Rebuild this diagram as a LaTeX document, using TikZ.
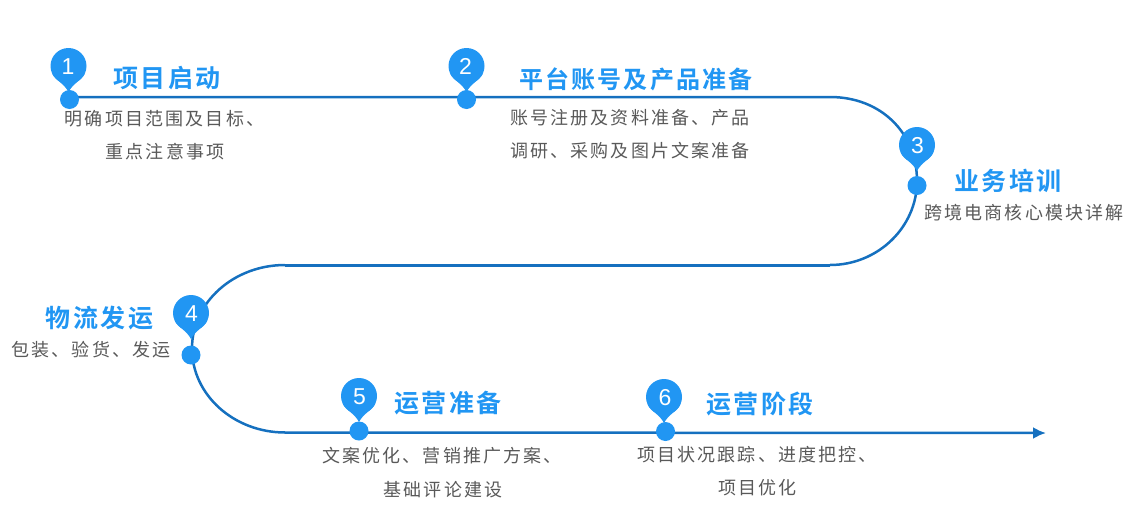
\documentclass[tikz,border=0pt]{standalone}
\usepackage{fontspec}
\usetikzlibrary{arrows.meta,backgrounds}
\setmainfont{Liberation Sans}
\newfontfamily\bodyfont[LetterSpace=12]{Noto Sans CJK SC}
\newfontfamily\titlefont[LetterSpace=10]{Noto Sans CJK SC Bold}
\newfontfamily\titlefontb[LetterSpace=9]{Noto Sans CJK SC Bold}
\definecolor{pinblue}{HTML}{2196F3}
\definecolor{linkblue}{HTML}{1570BF}
\definecolor{bodygray}{HTML}{595959}
\tikzset{
  x=1pt,y=-1pt,
  link/.style={draw=linkblue,line width=2.5pt},
  straight/.style={draw=linkblue,line width=3pt},
  dot/.style={circle,fill=pinblue,minimum size=19pt,inner sep=0pt},
  num/.style={text=white,font=\fontsize{23}{23}\selectfont,inner sep=0pt},
  heading/.style={text=pinblue,font=\titlefont\fontsize{25}{25}\selectfont,inner sep=0pt},
  longheading/.style={text=pinblue,font=\titlefontb\fontsize{24}{24}\selectfont,inner sep=0pt},
  body/.style={text=bodygray,font=\bodyfont\fontsize{18}{33}\selectfont,inner sep=0pt,align=center},
}
\newcommand{\pinshape}[2]{% centre x,y
  \begin{scope}[shift={(#1,#2)}]
  \fill[pinblue] (0,0) circle[radius=18pt];
  \fill[pinblue] (-16.4,7.5) .. controls (-13,14) and (-4,18) .. (0,26)
    .. controls (4,18) and (13,14) .. (16.4,7.5) -- cycle;
  \end{scope}
}
\begin{document}
\begin{tikzpicture}
\useasboundingbox (0,0) rectangle (1148,530);
\coordinate (s3a) at (830,97);
\coordinate (s3m) at (917,181);
\coordinate (s3b) at (830,265);
\coordinate (s4a) at (285,265);
\coordinate (s4m) at (192,348.5);
\coordinate (s4b) at (285,432.5);
\coordinate (endp) at (1046,433);
\node[dot] (d1) at (69.5,99.5) {};
\node[dot] (d2) at (466.5,99.5) {};
\node[dot] (d3) at (917,185.5) {};
\node[dot] (d4) at (191,355) {};
\node[dot] (d5) at (359,431) {};
\node[dot] (d6) at (665.5,431.5) {};
\begin{pgfonlayer}{background}
\draw[link] (d1.center |- s3a) -- (s3a) .. controls (881,97) and (917,133) .. (s3m)
  .. controls (917,227) and (878,265) .. (s3b);
\draw[straight] (s3b) -- (s4a);
\draw[link] (s4a) .. controls (234,265) and (192,302) .. (s4m)
  .. controls (192,395) and (234,432.5) .. (s4b);
\draw[link,-{Latex[length=13pt,width=12pt]}] (s4b) -- (endp);
\end{pgfonlayer}
\pinshape{68.5}{66}
\pinshape{466.5}{66}
\pinshape{917}{145}
\pinshape{191}{313}
\pinshape{359}{396}
\pinshape{664}{397}
\node[num] (n1) at (68,66.5) {1};
\node[num] (n2) at (465.5,66.5) {2};
\node[num] (n3) at (917.5,145.5) {3};
\node[num] (n4) at (191.5,313.5) {4};
\node[num] (n5) at (359.5,396.5) {5};
\node[num] (n6) at (665,397.5) {6};
\node[heading] (h1) at (167,78) {项目启动};
\node[longheading] (h2) at (636,79) {平台账号及产品准备};
\node[heading] (h3) at (1008,181) {业务培训};
\node[heading] (h4) at (99.5,318) {物流发运};
\node[heading] (h5) at (448,403) {运营准备};
\node[heading] (h6) at (760,404) {运营阶段};
\node[body] (b1a) at (164.5,119) {明确项目范围及目标、};
\node[body] (b1b) at (165,152) {重点注意事项};
\node[body] (b2a) at (630,118) {账号注册及资料准备、产品};
\node[body] (b2b) at (630,151) {调研、采购及图片文案准备};
\node[body] (b3) at (1024,213) {跨境电商核心模块详解};
\node[body] (b4) at (91,350) {包装、验货、发运};
\node[body] (b5a) at (442,456) {文案优化、营销推广方案、};
\node[body] (b5b) at (443,490) {基础评论建设};
\node[body] (b6a) at (757,455) {项目状况跟踪、进度把控、};
\node[body] (b6b) at (757.5,488) {项目优化};
\end{tikzpicture}
\end{document}
